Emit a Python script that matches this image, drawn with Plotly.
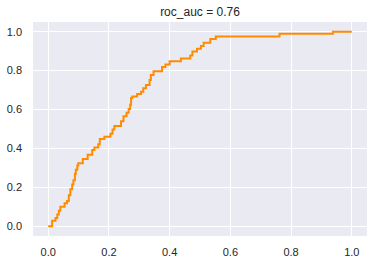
import plotly.graph_objects as go

fpr = [0.000, 0.013, 0.024, 0.030, 0.035, 0.040, 0.054, 0.062, 0.068, 0.073,
       0.079, 0.083, 0.088, 0.091, 0.096, 0.099, 0.114, 0.130, 0.145, 0.152,
       0.165, 0.170, 0.185, 0.205, 0.212, 0.218, 0.240, 0.248, 0.258, 0.265,
       0.270, 0.273, 0.277, 0.293, 0.306, 0.313, 0.322, 0.334, 0.338, 0.347,
       0.375, 0.386, 0.400, 0.437, 0.468, 0.475, 0.490, 0.503, 0.512, 0.534,
       0.552, 0.762, 0.9375, 1.000]
tpr = [0.000, 0.028, 0.042, 0.060, 0.080, 0.100, 0.118, 0.130, 0.160, 0.190,
       0.215, 0.236, 0.270, 0.290, 0.312, 0.324, 0.346, 0.368, 0.392, 0.405,
       0.422, 0.448, 0.460, 0.475, 0.498, 0.515, 0.540, 0.566, 0.583, 0.603,
       0.625, 0.659, 0.667, 0.680, 0.692, 0.710, 0.726, 0.752, 0.777, 0.797,
       0.819, 0.831, 0.848, 0.862, 0.878, 0.899, 0.912, 0.926, 0.943, 0.963,
       0.976, 0.990, 1.000, 1.000]
title_text = "roc_auc = 0.76"
tick_vals = [0.0, 0.2, 0.4, 0.6, 0.8, 1.0]
tick_text = ["0.0", "0.2", "0.4", "0.6", "0.8", "1.0"]

fig = go.Figure()
fig.add_trace(go.Scatter(x=fpr, y=tpr, mode="lines",
                         line=dict(color="#FF8C00", width=2, shape="hv"),
                         showlegend=False))

font_family = "Liberation Sans, Arial, sans-serif"
axis_common = dict(range=[-0.05, 1.05], tickvals=tick_vals, ticktext=tick_text,
                   showgrid=True, gridcolor="white", gridwidth=1.2,
                   zeroline=False, showline=False, ticks="",
                   tickfont=dict(family=font_family, size=11, color="#262626"))

fig.update_layout(
    width=374, height=265,
    margin=dict(l=33, r=7, t=22, b=27),
    paper_bgcolor="white", plot_bgcolor="#EAEAF2",
    title=dict(text=title_text, x=0.5, xref="paper", xanchor="center",
               y=1 - 12 / 265, yref="container", yanchor="middle",
               font=dict(family=font_family, size=12, color="#262626")),
    xaxis=dict(**axis_common, ticklabelstandoff=8),
    yaxis=dict(**axis_common, ticklabelstandoff=10),
)

fig.write_html("out.html")
